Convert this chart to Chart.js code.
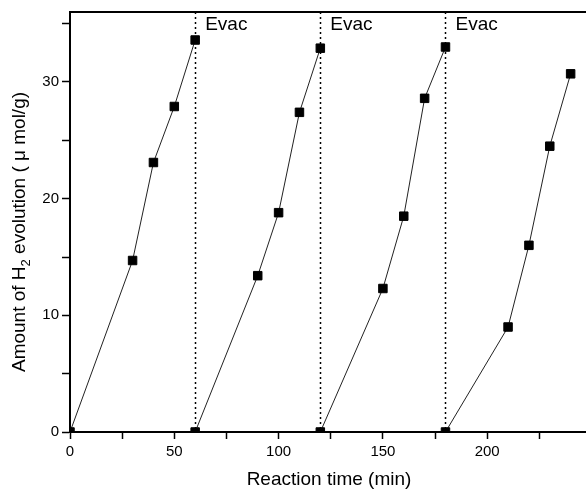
<!DOCTYPE html>
<html>
<head>
<meta charset="utf-8">
<script src="https://cdn.jsdelivr.net/npm/chart.js@4/dist/chart.umd.min.js"></script>
<style>
    html, body { margin: 0; padding: 0; background: #fff; overflow: hidden; }
    #wrap { width: 600px; height: 492px; }
</style>
</head>
<body>
<div id="wrap"><canvas id="h2Chart" width="600" height="492"></canvas></div>
<script>
// reaction time (min) and H2 amount (umol/g) for each of the four runs
var run1Time = [0, 30, 40, 50, 60];
var run1Amount = [0, 14.7, 23.1, 27.9, 33.6];
var run2Time = [60, 90, 100, 110, 120];
var run2Amount = [0, 13.4, 18.8, 27.4, 32.9];
var run3Time = [120, 150, 160, 170, 180];
var run3Amount = [0, 12.3, 18.5, 28.6, 33.0];
var run4Time = [180, 210, 220, 230, 240];
var run4Amount = [0, 9.0, 16.0, 24.5, 30.7];
var evacTimes = [60, 120, 180];
var xLabels = [0, 50, 100, 150, 200];
var yLabels = [0, 10, 20, 30];

var FONT = '"Liberation Sans", Arial, sans-serif';

function toPoints(xs, ys) {
    return xs.map(function (x, i) { return { x: x, y: ys[i] }; });
}

function runDataset(xs, ys) {
    return {
        data: toPoints(xs, ys),
        borderColor: '#222',
        borderWidth: 1,
        pointStyle: 'rect',
        pointRadius: 6,
        pointBorderWidth: 1,
        pointBackgroundColor: '#000',
        pointBorderColor: '#000',
        tension: 0
    };
}

// dotted evac lines, labels, top border and axis titles
var decorPlugin = {
    id: 'decor',
    beforeDatasetsDraw: function (chart) {
        var ctx = chart.ctx, area = chart.chartArea, xs = chart.scales.x;
        ctx.save();
        ctx.strokeStyle = '#000';
        ctx.lineWidth = 1.5;
        ctx.setLineDash([2, 3]);
        evacTimes.forEach(function (t) {
            var px = Math.round(xs.getPixelForValue(t)) + 0.5;
            ctx.beginPath();
            ctx.moveTo(px, area.top);
            ctx.lineTo(px, area.bottom);
            ctx.stroke();
        });
        ctx.setLineDash([]);
        ctx.fillStyle = '#000';
        ctx.font = '19px ' + FONT;
        ctx.textBaseline = 'middle';
        ctx.textAlign = 'left';
        evacTimes.forEach(function (t) {
            ctx.fillText('Evac', xs.getPixelForValue(t) + 10, area.top + 13);
        });
        ctx.restore();
    },
    afterDraw: function (chart) {
        var ctx = chart.ctx, area = chart.chartArea;
        ctx.save();
        ctx.strokeStyle = '#000';
        ctx.lineWidth = 2;
        ctx.beginPath();
        ctx.moveTo(area.left, area.top);
        ctx.lineTo(area.right, area.top);
        ctx.lineTo(area.right, area.bottom);
        ctx.stroke();

        ctx.fillStyle = '#000';
        ctx.textBaseline = 'middle';
        // x title
        ctx.font = '19px ' + FONT;
        ctx.textAlign = 'center';
        ctx.fillText('Reaction time (min)', 329, 480);

        // y title with subscript
        var parts = [
            { t: 'Amount of H', size: 19, dy: 0 },
            { t: '2', size: 13, dy: 6 },
            { t: ' evolution ( \u03bc mol/g)', size: 19, dy: 0 }
        ];
        var total = 0;
        parts.forEach(function (p) {
            ctx.font = p.size + 'px ' + FONT;
            p.w = ctx.measureText(p.t).width;
            total += p.w;
        });
        ctx.translate(20, 232);
        ctx.rotate(-Math.PI / 2);
        ctx.textAlign = 'left';
        var cx = -total / 2;
        parts.forEach(function (p) {
            ctx.font = p.size + 'px ' + FONT;
            ctx.fillText(p.t, cx, p.dy);
            cx += p.w;
        });
        ctx.restore();
    }
};

var ctx = document.getElementById('h2Chart').getContext('2d');
new Chart(ctx, {
    type: 'line',
    data: {
        datasets: [
            runDataset(run1Time, run1Amount),
            runDataset(run2Time, run2Amount),
            runDataset(run3Time, run3Amount),
            runDataset(run4Time, run4Amount)
        ]
    },
    options: {
        responsive: false,
        animation: false,
        layout: { padding: { left: 0, top: 12, right: 8.5, bottom: 0 } },
        plugins: {
            legend: { display: false },
            tooltip: { enabled: false }
        },
        scales: {
            x: {
                type: 'linear',
                min: 0,
                max: 250,
                z: 1,
                afterFit: function (scale) { scale.height = 60; },
                border: { display: true, color: '#000', width: 2 },
                grid: { drawOnChartArea: false, drawTicks: true, tickLength: 7, tickColor: '#000', tickWidth: 1.5 },
                ticks: {
                    stepSize: 25,
                    includeBounds: false,
                    autoSkip: false,
                    maxRotation: 0,
                    padding: 4,
                    color: '#000',
                    font: { family: FONT, size: 15 },
                    callback: function (v) { return xLabels.indexOf(v) >= 0 ? String(v) : ''; }
                }
            },
            y: {
                type: 'linear',
                min: 0,
                max: 36,
                z: 1,
                afterFit: function (scale) { scale.width = 70; },
                border: { display: true, color: '#000', width: 2 },
                grid: { drawOnChartArea: false, drawTicks: true, tickLength: 8, tickColor: '#000', tickWidth: 1.5 },
                ticks: {
                    stepSize: 5,
                    includeBounds: false,
                    autoSkip: false,
                    padding: 3,
                    color: '#000',
                    font: { family: FONT, size: 15 },
                    callback: function (v) { return yLabels.indexOf(v) >= 0 ? String(v) : ''; }
                }
            }
        }
    },
    plugins: [decorPlugin]
});
</script>
</body>
</html>
